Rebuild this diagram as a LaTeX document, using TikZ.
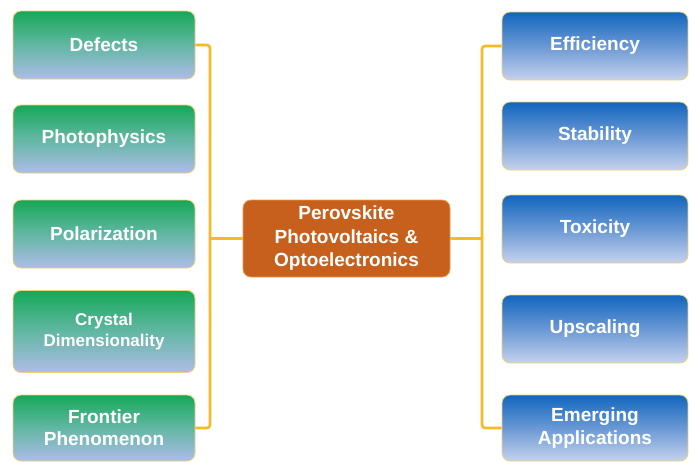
\documentclass[tikz,border=0pt]{standalone}
\usepackage{fontspec}
\setmainfont{Liberation Sans}
\definecolor{gtop}{HTML}{16A858}
\definecolor{gmid}{HTML}{62B7A4}
\definecolor{gbot}{HTML}{AEBCE8}
\definecolor{btop}{HTML}{1266BE}
\definecolor{bmid}{HTML}{6A98D4}
\definecolor{bbot}{HTML}{C6D2EE}
\definecolor{orfill}{HTML}{C6601C}
\definecolor{oredge}{HTML}{E89A50}
\definecolor{edgeyel}{HTML}{EAD27A}
\definecolor{connc}{HTML}{F6BA22}
\tikzset{
  topic/.style={rectangle, rounded corners=8pt, draw=edgeyel, line width=0.8pt,
    minimum width=182pt, minimum height=68pt, align=center, text=white,
    font=\bfseries\fontsize{19}{22}\selectfont, inner sep=2pt},
  greenbox/.style={topic, top color=gtop, bottom color=gbot, middle color=gmid},
  bluebox/.style={topic, minimum width=186pt, top color=btop, bottom color=bbot, middle color=bmid},
  centerbox/.style={rectangle, rounded corners=8pt, draw=oredge, line width=0.8pt, fill=orfill,
    minimum width=207pt, minimum height=77pt, align=center, text=white,
    font=\bfseries\fontsize{19}{23.5}\selectfont, inner sep=2pt},
  conn/.style={draw=connc, line width=2.6pt, rounded corners=3pt}
}
\begin{document}
\begin{tikzpicture}[x=1pt,y=-1pt]
\useasboundingbox[fill=white] (0,0) rectangle (689,463);
% left column
\node[greenbox] (defects) at (104,45) {Defects};
\node[greenbox] (photo) at (104,139) {Photophysics};
\node[greenbox] (polar) at (104,234) {Polarization};
\node[greenbox, minimum height=82pt, font=\bfseries\fontsize{17}{21}\selectfont] (crystal) at (104,331.5) {Crystal\\Dimensionality};
\node[greenbox, minimum height=66pt] (frontier) at (104,428) {Frontier\\Phenomenon};
% center
\node[centerbox] (center) at (346.5,238.5) {Perovskite\\Photovoltaics \&\\Optoelectronics};
% right column
\node[bluebox] (eff) at (595,46) {Efficiency};
\node[bluebox] (stab) at (595,136) {Stability};
\node[bluebox] (tox) at (595,229) {Toxicity};
\node[bluebox] (up) at (595,329) {Upscaling};
\node[bluebox, minimum height=66pt, font=\bfseries\fontsize{19}{23}\selectfont] (emer) at (595,428) {Emerging\\Applications};
% connector coordinates
\coordinate (lx) at (210,0);
\coordinate (rx) at (482,0);
% left connectors
\draw[conn] (defects.east) -- (defects.east -| lx) -- (frontier.east -| lx) -- (frontier.east);
\draw[conn] (center.west) -- (center.west -| lx);
% right connectors
\draw[conn] (eff.west) -- (eff.west -| rx) -- (emer.west -| rx) -- (emer.west);
\draw[conn] (center.east) -- (center.east -| rx);
\end{tikzpicture}
\end{document}
